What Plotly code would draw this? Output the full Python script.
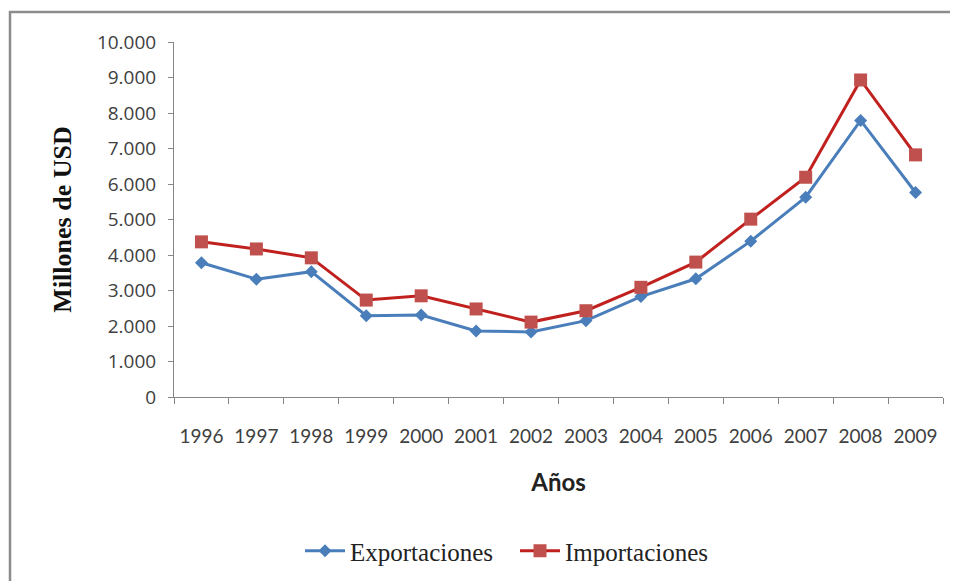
import plotly.graph_objects as go

years = ["1996", "1997", "1998", "1999", "2000", "2001", "2002",
         "2003", "2004", "2005", "2006", "2007", "2008", "2009"]
exportaciones = [3780, 3320, 3530, 2290, 2310, 1860, 1830,
                 2150, 2830, 3330, 4390, 5630, 7790, 5760]
importaciones = [4370, 4170, 3920, 2730, 2850, 2480, 2110,
                 2430, 3090, 3800, 5010, 6190, 8930, 6820]
y_ticks = [0, 1000, 2000, 3000, 4000, 5000, 6000, 7000, 8000, 9000, 10000]
y_tick_text = ["0", "1.000", "2.000", "3.000", "4.000", "5.000", "6.000",
               "7.000", "8.000", "9.000", "10.000"]

fig = go.Figure()
fig.add_trace(go.Scatter(
    x=years, y=exportaciones, name="Exportaciones", mode="lines+markers",
    line=dict(color="#4A7EBB", width=3),
    marker=dict(symbol="diamond", size=10, color="#4A7EBB"),
))
fig.add_trace(go.Scatter(
    x=years, y=importaciones, name="Importaciones", mode="lines+markers",
    line=dict(color="#C0211E", width=3),
    marker=dict(symbol="square", size=13, color="#C0504D"),
))

OFF = 8  # page body margin
L, R, T, B = 174 - OFF, 943 - OFF, 42 - OFF, 397 - OFF
W, H = 958, 581
pw, ph = R - L, B - T

def px(x):
    return (x - OFF - L) / pw

def py(y):
    return (B - (y - OFF)) / ph

fig.update_layout(
    width=W, height=H,
    margin=dict(l=L, r=W - R, t=T, b=H - B, pad=0),
    paper_bgcolor="white", plot_bgcolor="white",
    showlegend=True,
    legend=dict(
        orientation="h", x=px(515), xanchor="center", y=py(551), yanchor="middle",
        font=dict(family="Liberation Serif", size=25, color="#222222"),
        itemwidth=40, entrywidth=160, entrywidthmode="pixels",
        bgcolor="rgba(0,0,0,0)",
    ),
    xaxis=dict(
        type="category", tickson="boundaries", ticks="outside", ticklen=6,
        tickcolor="#868686", showline=True, linecolor="#868686", linewidth=1,
        showgrid=False, zeroline=False, ticklabelstandoff=22,
        tickfont=dict(family="Lato", size=19, color="#404040"),
        title=dict(text="<b>Años</b>", font=dict(family="Lato", size=24, color="#222222"),
                   standoff=28),
        range=[-0.5, 13.5],
    ),
    yaxis=dict(
        range=[0, 10000], tickmode="array", tickvals=y_ticks, ticktext=y_tick_text,
        ticks="outside", ticklen=5, tickcolor="#868686",
        showline=True, linecolor="#868686", linewidth=1,
        showgrid=False, zeroline=False, ticklabelstandoff=8,
        tickfont=dict(family="Open Sans", size=19, color="#404040"),
        title=dict(text="<b>Millones de USD</b>",
                   font=dict(family="Liberation Serif", size=26, color="#111111"),
                   standoff=17),
    ),
    shapes=[dict(
        type="rect", xref="paper", yref="paper",
        x0=px(10), x1=px(1000), y0=py(640), y1=py(12),
        line=dict(color="#8C8C8C", width=2.5), fillcolor="rgba(0,0,0,0)",
        layer="below",
    )],
)

fig.write_html("out.html")
